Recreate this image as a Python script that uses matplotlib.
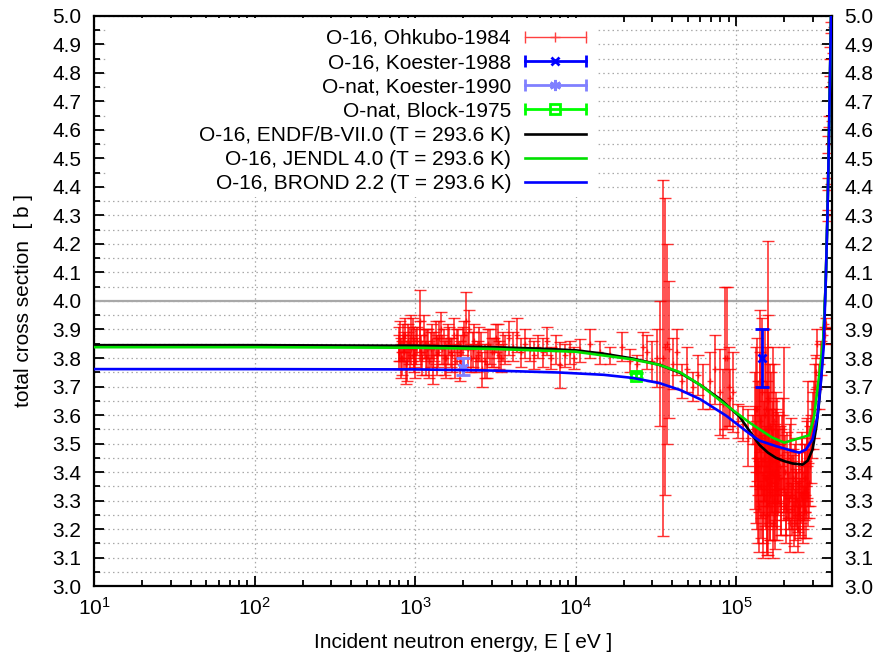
import matplotlib
matplotlib.use("Agg")
import matplotlib.pyplot as plt
from matplotlib.ticker import MultipleLocator, FormatStrFormatter, LogLocator, NullFormatter
from matplotlib.lines import Line2D
from matplotlib.legend_handler import HandlerLine2D, HandlerTuple
from matplotlib.patches import Rectangle

plt.rcParams['font.family'] = ['Liberation Sans', 'DejaVu Sans']
plt.rcParams['mathtext.default'] = 'regular'

# evaluated data, E [eV] / sigma [b]
endf_e = [10, 100, 1000, 3000, 6000, 1e4, 1.5e4, 2.28e4, 3.33e4, 4.48e4, 6.0e4, 8.0e4,
          1.05e5, 1.21e5, 1.4e5, 1.58e5, 1.77e5, 2.0e5, 2.25e5, 2.6e5, 2.8e5, 3.0e5, 3.17e5,
          3.31e5, 3.42e5, 3.5e5, 3.62e5, 3.71e5, 3.78e5, 3.85e5, 3.91e5, 3.97e5]
endf_xs = [3.845, 3.845, 3.843, 3.838, 3.833, 3.827, 3.815, 3.798, 3.776, 3.748, 3.705, 3.655,
           3.595, 3.545, 3.495, 3.468, 3.45, 3.438, 3.43, 3.426, 3.44, 3.479, 3.56,
           3.656, 3.76, 3.86, 4.06, 4.29, 4.52, 4.78, 5.0, 5.3]

jendl_e = [10, 100, 1000, 3000, 1e4, 2.28e4, 3.33e4, 4.48e4, 6.0e4, 8.66e4, 1.21e5, 1.4e5, 1.68e5,
           2.0e5, 2.86e5, 3.07e5, 3.2e5, 3.35e5, 3.5e5, 3.62e5, 3.71e5, 3.78e5, 3.85e5, 3.91e5, 3.97e5]
jendl_xs = [3.838, 3.838, 3.836, 3.832, 3.822, 3.795, 3.776, 3.75, 3.705, 3.635, 3.574, 3.55, 3.521,
            3.503, 3.529, 3.597, 3.68, 3.77, 3.87, 4.06, 4.29, 4.52, 4.78, 5.0, 5.3]

brond_e = [10, 100, 1000, 3000, 8000, 1.5e4, 2.28e4, 3.33e4, 4.48e4, 6.0e4, 8.66e4, 1.21e5, 1.4e5,
           1.77e5, 2.25e5, 2.48e5, 2.73e5, 3.0e5, 3.22e5, 3.38e5, 3.52e5, 3.62e5, 3.71e5, 3.78e5,
           3.85e5, 3.91e5, 3.97e5]
brond_xs = [3.761, 3.761, 3.760, 3.756, 3.749, 3.741, 3.730, 3.712, 3.688, 3.655, 3.598, 3.535, 3.51,
            3.491, 3.474, 3.468, 3.479, 3.515, 3.597, 3.715, 3.84, 4.06, 4.29, 4.52,
            4.78, 5.0, 5.3]

# measurements
ohkubo_e = [790, 810, 830, 850, 870, 890, 915, 940, 965, 990,
            1020, 1070, 1080, 1110, 1150, 1190, 1230, 1270, 1320, 1370,
            1420, 1480, 1540, 1600, 1670, 1740, 1820, 1900, 1990, 2080,
            2180, 2290, 2400, 2520, 2610, 2790, 2940, 3100, 3270, 3450,
            3650, 3860, 4090, 4330, 4590, 4870, 5170, 5500, 5850, 6230,
            6640, 7080, 7550, 8000, 8600, 9200, 9850,
            800, 820, 840, 860, 880, 900, 925, 950, 980, 1005,
            1035, 1095, 1130, 1170, 1210, 1250, 1295, 1345, 1395, 1450,
            1510, 1570, 1635, 1705, 1780, 1860, 1945, 2030, 2130, 2235,
            2345, 2460, 2585, 2720, 2865, 3020, 3185, 3360, 3550,
            1.07e4, 1.23e4, 1.42e4, 1.64e4, 1.94e4, 2.19e4, 2.41e4, 2.63e4,
            2.77e4, 2.98e4, 3.2e4, 3.36e4, 3.52e4, 3.61e4, 3.7e4, 3.84e4, 4.07e4, 4.27e4,
            4.58e4, 4.92e4, 5.42e4, 5.82e4, 6.25e4, 6.88e4, 7.4e4, 7.94e4, 8.5e4, 9.07e4,
            8.34e4, 8.75e4, 9.18e4, 9.63e4, 1.03e5, 1.11e5, 1.19e5, 1.28e5,
            1.31e5, 1.33e5, 1.35e5, 1.37e5, 1.39e5, 1.41e5, 1.43e5, 1.45e5, 1.47e5, 1.49e5,
            1.51e5, 1.53e5, 1.55e5, 1.57e5, 1.59e5, 1.61e5, 1.63e5, 1.65e5, 1.67e5, 1.69e5,
            1.71e5, 1.73e5, 1.75e5, 1.77e5, 1.79e5, 1.81e5, 1.83e5, 1.85e5, 1.58e5,
            1.32e5, 1.34e5, 1.36e5, 1.38e5, 1.40e5, 1.42e5, 1.44e5, 1.46e5, 1.48e5, 1.50e5,
            1.52e5, 1.54e5, 1.56e5, 1.60e5, 1.62e5, 1.64e5, 1.66e5, 1.68e5, 1.70e5, 1.72e5,
            1.74e5, 1.76e5, 1.78e5, 1.80e5, 1.82e5, 1.86e5, 1.90e5, 1.94e5, 1.98e5, 2.02e5,
            2.06e5, 2.10e5, 2.14e5, 2.18e5, 2.22e5, 2.26e5, 2.30e5, 2.34e5, 2.38e5, 2.42e5,
            2.46e5, 2.50e5, 2.54e5, 2.58e5, 2.62e5, 2.66e5, 2.70e5, 2.74e5, 2.78e5, 2.82e5,
            1.88e5, 1.92e5, 1.96e5, 2.0e5, 2.04e5, 2.08e5, 2.12e5, 2.16e5, 2.2e5, 2.24e5,
            2.28e5, 2.32e5, 2.36e5, 2.4e5, 2.44e5, 2.48e5, 2.52e5, 2.56e5, 2.6e5, 2.64e5,
            2.68e5, 2.72e5, 2.76e5, 2.8e5, 2.84e5, 2.88e5, 2.92e5, 2.96e5, 3.0e5, 3.05e5,
            3.1e5, 3.15e5, 3.2e5, 3.3e5, 3.4e5,
            3.6e5, 3.62e5, 3.72e5, 3.74e5, 3.77e5, 3.8e5, 3.83e5, 3.86e5, 3.88e5]
ohkubo_xs = [3.82, 3.86, 3.80, 3.84, 3.88, 3.79, 3.85, 3.83, 3.87, 3.81,
             3.84, 3.93, 3.86, 3.80, 3.85, 3.83, 3.79, 3.86, 3.84, 3.81,
             3.87, 3.83, 3.80, 3.85, 3.82, 3.88, 3.84, 3.79, 3.86, 3.93,
             3.90, 3.83, 3.80, 3.85, 3.76, 3.78, 3.84, 3.82, 3.86, 3.80,
             3.83, 3.87, 3.84, 3.88, 3.82, 3.85, 3.83, 3.81, 3.84, 3.82,
             3.86, 3.80, 3.83, 3.775, 3.81, 3.82, 3.80,
             3.85, 3.80, 3.87, 3.82, 3.78, 3.86, 3.81, 3.89, 3.84, 3.79,
             3.86, 3.82, 3.88, 3.80, 3.85, 3.83, 3.78, 3.87, 3.82, 3.90,
             3.84, 3.80, 3.86, 3.81, 3.79, 3.85, 3.82, 3.88, 3.83, 3.80,
             3.86, 3.81, 3.84, 3.79, 3.85, 3.82, 3.87, 3.81, 3.84,
             3.827, 3.85, 3.82, 3.81, 3.84, 3.79, 3.78, 3.84,
             3.82, 3.79, 3.80, 3.78, 3.80, 3.84, 3.85, 3.83, 3.78, 3.82,
             3.72, 3.76, 3.70, 3.74, 3.70, 3.72, 3.76, 3.68, 3.80, 3.70,
             3.64, 3.80, 3.66, 3.68, 3.58, 3.57, 3.52, 3.55,
             3.55, 3.40, 3.62, 3.30, 3.48, 3.72, 3.35, 3.52, 3.25, 3.45,
             3.60, 3.38, 3.50, 3.28, 3.65, 3.42, 3.33, 3.55, 3.40, 3.22,
             3.47, 3.58, 3.36, 3.44, 3.30, 3.50, 3.40, 3.46, 3.66,
             3.45, 3.62, 3.35, 3.52, 3.28, 3.58, 3.42, 3.68, 3.30, 3.50,
             3.38, 3.62, 3.25, 3.48, 3.32, 3.56, 3.36, 3.44, 3.60, 3.30,
             3.40, 3.26, 3.50, 3.34, 3.45, 3.38, 3.28, 3.46, 3.34, 3.40,
             3.24, 3.36, 3.30, 3.44, 3.27, 3.35, 3.22, 3.38, 3.31, 3.28,
             3.36, 3.25, 3.32, 3.40, 3.30, 3.26, 3.38, 3.34, 3.44, 3.32,
             3.42, 3.30, 3.50, 3.55, 3.28, 3.40, 3.35, 3.22, 3.45, 3.32,
             3.38, 3.25, 3.40, 3.30, 3.20, 3.35, 3.28, 3.42, 3.24, 3.33,
             3.38, 3.26, 3.45, 3.50, 3.36, 3.42, 3.48, 3.55, 3.58, 3.62,
             3.70, 3.75, 3.85, 3.70, 3.80,
             3.88, 3.92, 4.30, 4.41, 4.55, 4.63, 4.77, 4.87, 4.96]
ohkubo_err = [0.06, 0.07, 0.06, 0.05, 0.06, 0.07, 0.06, 0.05, 0.07, 0.06,
              0.06, 0.11, 0.07, 0.06, 0.05, 0.07, 0.06, 0.06, 0.05, 0.07,
              0.06, 0.05, 0.06, 0.07, 0.05, 0.06, 0.06, 0.07, 0.05, 0.10,
              0.07, 0.06, 0.05, 0.06, 0.06, 0.05, 0.06, 0.05, 0.06, 0.05,
              0.05, 0.06, 0.05, 0.06, 0.05, 0.05, 0.04, 0.05, 0.04, 0.05,
              0.05, 0.04, 0.05, 0.08, 0.04, 0.04, 0.04,
              0.06, 0.07, 0.05, 0.06, 0.07, 0.06, 0.05, 0.06, 0.07, 0.06,
              0.05, 0.06, 0.07, 0.06, 0.05, 0.06, 0.07, 0.06, 0.05, 0.06,
              0.06, 0.07, 0.05, 0.06, 0.06, 0.05, 0.06, 0.05, 0.06, 0.05,
              0.06, 0.05, 0.05, 0.06, 0.05, 0.05, 0.05, 0.05, 0.05,
              0.04, 0.05, 0.04, 0.03, 0.05, 0.04, 0.03, 0.05,
              0.06, 0.07, 0.10, 0.22, 0.625, 0.52, 0.35, 0.24, 0.09, 0.08,
              0.06, 0.08, 0.05, 0.07, 0.08, 0.10, 0.12, 0.15, 0.25, 0.14,
              0.12, 0.25, 0.10, 0.14, 0.06, 0.06, 0.10, 0.05,
              0.20, 0.18, 0.25, 0.15, 0.22, 0.25, 0.18, 0.20, 0.15, 0.20,
              0.30, 0.18, 0.22, 0.16, 0.30, 0.20, 0.17, 0.20, 0.15, 0.12,
              0.18, 0.20, 0.15, 0.18, 0.14, 0.16, 0.15, 0.14, 0.55,
              0.18, 0.22, 0.15, 0.20, 0.16, 0.24, 0.18, 0.26, 0.15, 0.20,
              0.17, 0.22, 0.14, 0.20, 0.16, 0.22, 0.15, 0.18, 0.24, 0.14,
              0.17, 0.13, 0.18, 0.14, 0.16, 0.12, 0.10, 0.14, 0.11, 0.13,
              0.09, 0.12, 0.10, 0.13, 0.09, 0.11, 0.08, 0.12, 0.10, 0.09,
              0.11, 0.08, 0.10, 0.12, 0.10, 0.09, 0.12, 0.10, 0.14, 0.11,
              0.14, 0.12, 0.16, 0.29, 0.10, 0.14, 0.12, 0.10, 0.14, 0.12,
              0.10, 0.09, 0.12, 0.10, 0.08, 0.12, 0.10, 0.12, 0.09, 0.10,
              0.12, 0.09, 0.14, 0.22, 0.12, 0.14, 0.12, 0.10, 0.10, 0.10,
              0.08, 0.06, 0.05, 0.08, 0.06,
              0.03, 0.02, 0.02, 0.02, 0.03, 0.02, 0.02, 0.02, 0.02]

koester88_e, koester88_xs, koester88_err = [1.45e5], [3.80], [0.10]
koester90_e, koester90_xs, koester90_err = [1.98e3], [3.77], [0.03]
block_e, block_xs, block_err = [2.37e4], [3.738], [0.008]

fig = plt.figure(figsize=(8.77, 6.52), dpi=100)
ax = fig.add_axes([0.1072, 0.1012, 0.841, 0.8743])

ax.errorbar(ohkubo_e, ohkubo_xs, yerr=ohkubo_err, fmt='+', color='red', ms=5, mew=1,
            elinewidth=1.2, capsize=4, capthick=1.2, alpha=0.8, zorder=2)
ax.errorbar(koester88_e, koester88_xs, yerr=koester88_err, fmt='x', color='#0000ff', ms=6, mew=2,
            elinewidth=2, capsize=5, capthick=2, zorder=3)
ax.errorbar(koester90_e, koester90_xs, yerr=koester90_err, fmt='none', color='#8080ff',
            elinewidth=2, capsize=5, capthick=2, zorder=3)
ax.plot(koester90_e, koester90_xs, ls='none', marker=(6, 2, 0), color='#8080ff', ms=8, mew=2, zorder=3)
ax.errorbar(block_e, block_xs, yerr=block_err, fmt='s', color='#00ff00', mfc='none', ms=7, mew=2,
            elinewidth=2, capsize=5, capthick=2, zorder=3)

ax.plot(endf_e, endf_xs, color='black', lw=1.9, zorder=4)
ax.plot(jendl_e, jendl_xs, color='#00e000', lw=1.9, zorder=4)
ax.plot(brond_e, brond_xs, color='#0000ff', lw=1.9, zorder=4)

ax.axhline(4.0, color='#a8a8a8', lw=1.6, zorder=1)

ax.set_xscale('log')
ax.set_xlim(10, 3.94e5)
ax.set_ylim(3.0, 5.0)
ax.xaxis.set_minor_locator(LogLocator(base=10, subs=range(2, 10)))
ax.xaxis.set_minor_formatter(NullFormatter())
ax.yaxis.set_major_locator(MultipleLocator(0.1))
ax.yaxis.set_minor_locator(MultipleLocator(0.05))
ax.yaxis.set_major_formatter(FormatStrFormatter('%.1f'))
ax.tick_params(which='both', direction='in', top=True, right=True, labelright=True,
               width=1.3, labelsize=15, color='black')
ax.tick_params(which='major', length=7)
ax.tick_params(which='minor', length=4)
ax.tick_params(axis='x', pad=8)
ax.tick_params(axis='y', which='both', pad=9)
for s in ax.spines.values():
    s.set_linewidth(1.6)

ax.set_axisbelow(True)
ax.grid(True, which='major', axis='x', ls=(0, (1.2, 2.5)), color='#a8a8a8', lw=0.9)
ax.grid(True, which='both', axis='y', ls=(0, (1.2, 2.5)), color='#a8a8a8', lw=0.9)

# white key area
ax.add_patch(Rectangle((108 / 877, 1 - 197 / 652), (598 - 108) / 877, (197 - 18) / 652,
                       transform=fig.transFigure, facecolor='white', edgecolor='none', zorder=1.5))

ax.set_xlabel('Incident neutron energy, E [ eV ]', fontsize=15, labelpad=10)
ax.set_ylabel('total cross section  [ b ]', fontsize=15, labelpad=14)


def err_handle(color, lw, marker, ms, mfc=None):
    caps = Line2D([], [], color=color, lw=lw, marker='|', ms=9, mew=lw)
    mid = Line2D([], [], color=color, ls='none', marker=marker, ms=ms, mew=lw,
                 mfc=mfc if mfc else color)
    return (caps, mid), caps


handles = []
hmap = {}
for color, lw, mk, ms, mfc in [('#ff4040', 1, '+', 7, None), ('#0000ff', 2, 'x', 6, None),
                               ('#8080ff', 2, (6, 2, 0), 8, None), ('#00ff00', 2, 's', 7, 'none')]:
    h, caps = err_handle(color, lw, mk, ms, mfc)
    handles.append(h)
    hmap[caps] = HandlerLine2D(numpoints=2, marker_pad=0)
handles.append(Line2D([], [], color='black', lw=1.9))
handles.append(Line2D([], [], color='#00e000', lw=1.9))
handles.append(Line2D([], [], color='#0000ff', lw=1.9))
labels = ['O-16, Ohkubo-1984', 'O-16, Koester-1988', 'O-nat, Koester-1990', 'O-nat, Block-1975',
          'O-16, ENDF/B-VII.0 (T = 293.6 K)', 'O-16, JENDL 4.0 (T = 293.6 K)',
          'O-16, BROND 2.2 (T = 293.6 K)']
hmap[tuple] = HandlerTuple(ndivide=1)
leg = ax.legend(handles, labels, handler_map=hmap, markerfirst=False, frameon=False,
                fontsize=15, loc='upper right', bbox_to_anchor=(586 / 877, 1 - 29 / 652),
                bbox_transform=fig.transFigure, borderpad=0, borderaxespad=0,
                handlelength=2.93, handletextpad=0.67, labelspacing=0.25)
leg.set_zorder(6)

fig.savefig('out.png', dpi=100)
